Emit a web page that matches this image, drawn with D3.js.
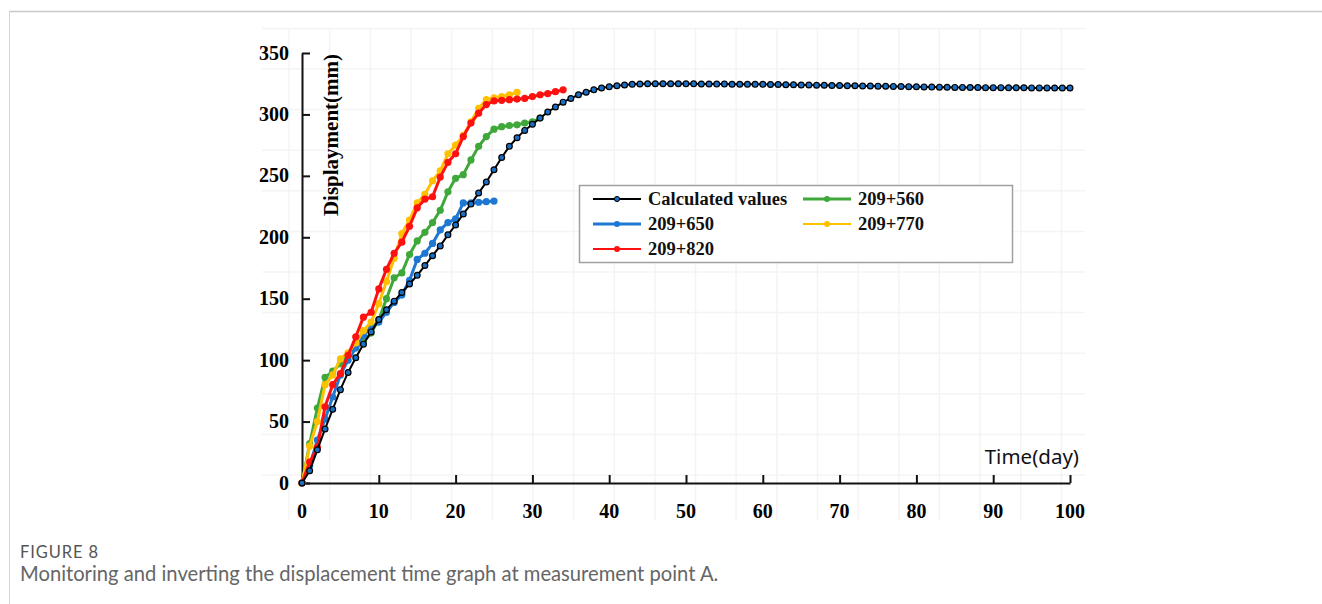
<!DOCTYPE html>
<html>
<head>
<meta charset="utf-8">
<script src="https://cdn.jsdelivr.net/npm/d3@7"></script>
<style>
  body { margin: 0; background: #fff; }
  svg { display: block; }
</style>
</head>
<body>
<svg width="1322" height="604"></svg>
<script>
// days and displacement (mm)
var calcDays = d3.range(0, 101);
var calcValues = [0, 10, 27, 44, 60, 76, 90, 102, 113, 123,
  133, 141, 148, 155, 162, 169, 177, 185, 193, 202,
  210, 219, 227, 236, 245, 255, 265, 274, 281, 287,
  292, 297, 302, 306, 310, 313, 316, 318, 320, 321.5,
  322.5, 323.3, 324, 324.5, 324.8, 325, 325, 325, 325, 325,
  324.9, 324.9, 324.8, 324.8, 324.7, 324.7, 324.6, 324.6, 324.5, 324.5,
  324.5, 324.4, 324.3, 324.2, 324.1, 324, 323.9, 323.8, 323.7, 323.6,
  323.5, 323.4, 323.3, 323.2, 323.1, 323, 322.9, 322.8, 322.7, 322.6,
  322.5, 322.4, 322.3, 322.2, 322.1, 322, 322, 321.9, 321.9, 321.8,
  321.8, 321.8, 321.7, 321.7, 321.7, 321.6, 321.6, 321.6, 321.5, 321.5, 321.5];

var s560 = [0, 32, 61, 86, 91, 97, 104, 110, 115, 122, 133, 150, 167, 171, 186, 197,
  204, 212, 222, 237, 248, 251, 263, 274, 282, 288, 290, 291, 291.5, 293, 294, 297];
var s650 = [0, 14, 35, 52, 70, 88, 100, 110, 120, 127, 131, 139, 147, 153, 165, 182,
  187, 195, 206, 212, 215, 228, 228, 228.5, 229, 229.5];
var s770 = [0, 30, 50, 80, 88, 101, 106, 114, 124, 131, 146, 164, 183, 203, 214, 228,
  235, 246, 254, 268, 275, 283, 294, 305, 312, 313.5, 314.5, 316, 318];
var s820 = [0, 17, 29, 62, 80, 89, 104, 119, 135, 139, 158, 174, 187, 196, 209, 224,
  231, 233, 249, 261, 268, 282, 293, 301, 308, 311, 311.5, 312, 312.5, 313, 314.5,
  316, 317, 318.5, 320];

var xTicks = [0, 10, 20, 30, 40, 50, 60, 70, 80, 90, 100];
var yTicks = [0, 50, 100, 150, 200, 250, 300, 350];

var series = [
  {name: "209+560", values: s560, color: "#3fa83a"},
  {name: "209+650", values: s650, color: "#1e78d2"},
  {name: "209+770", values: s770, color: "#ffc000"},
  {name: "209+820", values: s820, color: "#ff1010"}
];

var svg = d3.select("svg");

// frame of the page
svg.append("line").attr("x1", 9).attr("x2", 1322).attr("y1", 11.5).attr("y2", 11.5)
  .attr("stroke", "#c8c8c8").attr("stroke-width", 1.5);
svg.append("line").attr("x1", 9.5).attr("x2", 9.5).attr("y1", 11).attr("y2", 604)
  .attr("stroke", "#d5d5d5").attr("stroke-width", 1);

// faint background grid of the original picture
var grid = svg.append("g").attr("stroke", "#f4f4f4").attr("stroke-width", 1.5);
d3.range(289, 1086, 40.65).forEach(function(gx) {
  grid.append("line").attr("x1", gx).attr("x2", gx).attr("y1", 28).attr("y2", 520);
});
d3.range(475, 27, -40.6).forEach(function(gy) {
  grid.append("line").attr("x1", 262).attr("x2", 1085).attr("y1", gy).attr("y2", gy);
});

var x = d3.scaleLinear().domain([0, 100]).range([302, 1070]);
var y = d3.scaleLinear().domain([0, 350]).range([483, 53]);

var serif = "'Liberation Serif', 'Times New Roman', serif";

// axes with inward ticks
var xAxis = svg.append("g").attr("transform", "translate(0," + y(0) + ")")
  .call(d3.axisTop(x).tickValues(xTicks).tickSize(8).tickSizeOuter(0).tickFormat(""));
var yAxis = svg.append("g").attr("transform", "translate(" + x(0) + ",0)")
  .call(d3.axisRight(y).tickValues(yTicks).tickSize(8).tickSizeOuter(0).tickFormat(""));
[xAxis, yAxis].forEach(function(a) {
  a.select(".domain").attr("stroke", "#111").attr("stroke-width", 2);
  a.selectAll(".tick line").attr("stroke", "#111").attr("stroke-width", 2);
});

svg.append("g").selectAll("text").data(xTicks).enter().append("text")
  .attr("x", function(d) { return x(d); })
  .attr("y", 518)
  .attr("text-anchor", "middle")
  .style("font-family", serif).style("font-weight", "bold").style("font-size", "20px")
  .text(function(d) { return d; });

svg.append("g").selectAll("text").data(yTicks).enter().append("text")
  .attr("x", 289)
  .attr("y", function(d) { return y(d) + 6.5; })
  .attr("text-anchor", "end")
  .style("font-family", serif).style("font-weight", "bold").style("font-size", "20px")
  .text(function(d) { return d; });

svg.append("text")
  .attr("transform", "translate(338,135) rotate(-90)")
  .attr("text-anchor", "middle")
  .style("font-family", serif).style("font-weight", "bold").style("font-size", "21px")
  .text("Displayment(mm)");

svg.append("text")
  .attr("x", 1079).attr("y", 464)
  .attr("text-anchor", "end")
  .style("font-family", "'Noto Sans', sans-serif").style("font-size", "20.5px")
  .style("fill", "#111")
  .text("Time(day)");

var line = d3.line()
  .x(function(d, i) { return x(i); })
  .y(function(d) { return y(d); });

// field measurements
series.forEach(function(s) {
  var g = svg.append("g");
  g.append("path").datum(s.values)
    .attr("d", line)
    .attr("fill", "none").attr("stroke", s.color).attr("stroke-width", 3)
    .attr("stroke-linejoin", "round");
  g.selectAll("circle").data(s.values).enter().append("circle")
    .attr("cx", function(d, i) { return x(i); })
    .attr("cy", function(d) { return y(d); })
    .attr("r", 3.6)
    .attr("fill", s.color);
});

// inverted calculation
svg.append("path").datum(calcValues)
  .attr("d", line)
  .attr("fill", "none").attr("stroke", "#000").attr("stroke-width", 2);
svg.append("g").selectAll("circle").data(calcValues).enter().append("circle")
  .attr("cx", function(d, i) { return x(calcDays[i]); })
  .attr("cy", function(d) { return y(d); })
  .attr("r", 2.9)
  .attr("fill", "#1a6fc4").attr("stroke", "#000").attr("stroke-width", 1.2);

// legend
var legend = svg.append("g");
legend.append("rect").attr("x", 579.5).attr("y", 185.5).attr("width", 433).attr("height", 77)
  .attr("fill", "#fff").attr("stroke", "#a0a0a0").attr("stroke-width", 1.5);

var items = [
  {name: "Calculated values", color: "#000", mark: "#1a6fc4", lx: 593, ty: 199, w: 2},
  {name: "209+560", color: series[0].color, mark: series[0].color, lx: 803, ty: 199, w: 3},
  {name: "209+650", color: series[1].color, mark: series[1].color, lx: 593, ty: 224, w: 3},
  {name: "209+770", color: series[2].color, mark: series[2].color, lx: 803, ty: 224, w: 2},
  {name: "209+820", color: series[3].color, mark: series[3].color, lx: 593, ty: 249, w: 2}
];
items.forEach(function(it, k) {
  legend.append("line").attr("x1", it.lx).attr("x2", it.lx + 48)
    .attr("y1", it.ty).attr("y2", it.ty)
    .attr("stroke", it.color).attr("stroke-width", it.w);
  legend.append("circle").attr("cx", it.lx + 24).attr("cy", it.ty).attr("r", k === 0 ? 2.6 : 3)
    .attr("fill", it.mark).attr("stroke", k === 0 ? "#000" : "none").attr("stroke-width", 1);
  legend.append("text").attr("x", it.lx + 55).attr("y", it.ty + 6)
    .style("font-family", serif).style("font-weight", "bold").style("font-size", "18.5px")
    .style("fill", "#111")
    .text(it.name);
});

// caption
svg.append("text").attr("x", 20).attr("y", 558)
  .style("font-family", "Lato, 'Open Sans', sans-serif").style("font-size", "16.5px")
  .style("letter-spacing", "0.9px")
  .style("fill", "#555")
  .text("FIGURE 8");
svg.append("text").attr("x", 20).attr("y", 581)
  .style("font-family", "Lato, 'Open Sans', sans-serif").style("font-size", "20.2px")
  .style("fill", "#666")
  .text("Monitoring and inverting the displacement time graph at measurement point A.");
</script>
</body>
</html>
